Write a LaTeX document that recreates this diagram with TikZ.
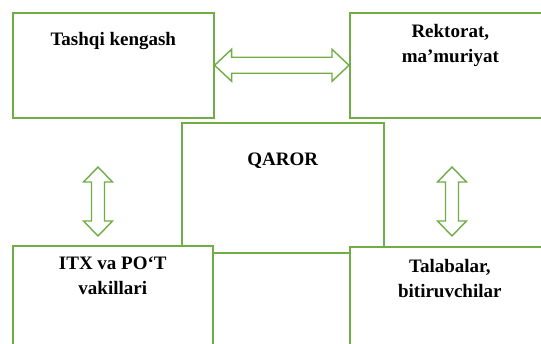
\documentclass[tikz,border=0pt]{standalone}
\usepackage{fontspec}
\setmainfont{Liberation Serif}
\usetikzlibrary{calc}
\definecolor{boxgreen}{HTML}{70AD47}

% block arrow with two heads: from, to, head length, head half width, shaft half width
\newcommand{\dblarrow}[5]{%
  \path ($(#1)!#3!(#2)$) coordinate (h1) ($(#2)!#3!(#1)$) coordinate (h2);
  \draw[arrowline] (#1) -- ($(h1)!#4!90:(#2)$) -- ($(h1)!#5!90:(#2)$)
    -- ($(h2)!#5!-90:(#1)$) -- ($(h2)!#4!-90:(#1)$) -- (#2)
    -- ($(h2)!#4!90:(#1)$) -- ($(h2)!#5!90:(#1)$)
    -- ($(h1)!#5!-90:(#2)$) -- ($(h1)!#4!-90:(#2)$) -- cycle;
}

\begin{document}
\begin{tikzpicture}[x=1pt, y=1pt,
    rect/.style={draw=boxgreen, line width=1.6pt, fill=white, rectangle, anchor=north west, inner sep=0pt},
    lbl/.style={font=\fontsize{19}{25}\selectfont\bfseries, align=center, anchor=north, inner sep=0pt},
    arrowline/.style={draw=boxgreen, line width=1.4pt, fill=white}]
    \clip (0,0) rectangle (541,344);

    % Top row
    \node[rect, minimum width=201pt, minimum height=105pt] (tk) at (12,332) {};
    \node[rect, minimum width=201pt, minimum height=105pt] (rk) at (349,332) {};
    \node[lbl] (tk-t) at ([yshift=-20pt]tk.north) {Tashqi kengash};
    \node[lbl] (rk-t) at ([yshift=-12pt]rk.north) {Rektorat,\\ma’muriyat};

    % Middle
    \node[rect, minimum width=202pt, minimum height=130pt] (qr) at (181,222) {};
    \node[lbl] (qr-t) at ([yshift=-31pt]qr.north) {QAROR};

    % Bottom row
    \node[rect, minimum width=200pt, minimum height=120pt] (itx) at (12,99) {};
    \node[rect, minimum width=200pt, minimum height=120pt] (tb) at (349,98) {};
    \node[lbl] (itx-t) at ([yshift=-12pt]itx.north) {ITX va PO‘T\\vakillari};
    \node[lbl] (tb-t) at ([yshift=-13pt]tb.north) {Talabalar,\\bitiruvchilar};

    % Arrows
    \coordinate (l-top) at (98,177);
    \coordinate (l-bot) at (98,108);
    \coordinate (r-top) at (452,177);
    \coordinate (r-bot) at (452,108);
    \dblarrow{tk.east}{rk.west}{17pt}{16pt}{8pt}
    \dblarrow{l-top}{l-bot}{15pt}{14.5pt}{6.5pt}
    \dblarrow{r-top}{r-bot}{15pt}{14.5pt}{6.5pt}
\end{tikzpicture}
\end{document}
